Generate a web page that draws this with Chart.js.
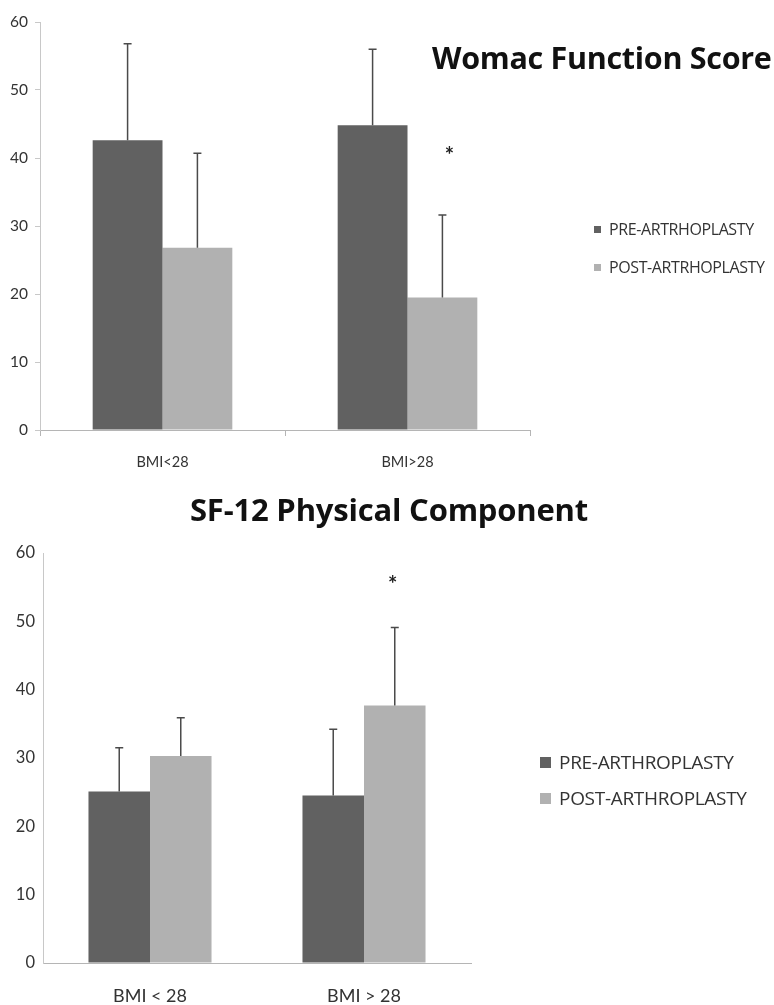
<!DOCTYPE html>
<html>
<head>
<meta charset="utf-8">
<script src="https://cdn.jsdelivr.net/npm/chart.js@4.4.0/dist/chart.umd.min.js"></script>
<style>
  html, body { margin: 0; padding: 0; background: #fff; }
  body { width: 774px; height: 1005px; position: relative; overflow: hidden; font-family: Lato, "Open Sans", sans-serif; }
  .box { position: absolute; left: 0; }
  .title { position: absolute; font-family: "Open Sans", sans-serif; font-weight: bold; color: #111; white-space: nowrap; line-height: 1; }
  .legend { position: absolute; font-family: "Open Sans", sans-serif; color: #333; white-space: nowrap; }
  .legend div { display: flex; align-items: center; }
  .legend span.sw { display: inline-block; }
</style>
</head>
<body>
<div class="box" style="top:0;width:774px;height:480px"><canvas id="womacChart"></canvas></div>
<div class="box" style="top:500px;width:774px;height:505px"><canvas id="sfChart"></canvas></div>

<div class="title" id="womacTitle" style="left:432px;top:42px;font-size:30.5px;letter-spacing:-0.3px">Womac Function Score</div>
<div class="title" id="sfTitle" style="left:190px;top:494px;font-size:31px;letter-spacing:-0.2px">SF-12 Physical Component</div>

<div class="legend" id="womacLegend" style="left:594px;top:210px;font-size:16px;letter-spacing:-0.4px"></div>
<div class="legend" id="sfLegend" style="left:540px;top:744px;font-size:19px;letter-spacing:-0.3px"></div>

<script>
// Womac function score, pre vs post arthroplasty, by BMI group
const womacGroups = ['BMI<28', 'BMI>28'];
const womacPre = [42.6, 44.8];
const womacPreSd = [14.2, 11.2];
const womacPost = [26.8, 19.5];
const womacPostSd = [13.9, 12.1];
const womacStars = [null, 41];
const womacLabels = ['PRE-ARTRHOPLASTY', 'POST-ARTRHOPLASTY'];

// SF-12 physical component
const sfGroups = ['BMI < 28', 'BMI > 28'];
const sfPre = [25.1, 24.5];
const sfPreSd = [6.4, 9.7];
const sfPost = [30.3, 37.7];
const sfPostSd = [5.6, 11.4];
const sfStars = [null, 56];
const sfLabels = ['PRE-ARTHROPLASTY', 'POST-ARTHROPLASTY'];

const yTicks = [0, 10, 20, 30, 40, 50, 60];

const DARK = '#616161';
const LIGHT = '#b1b1b1';

// Error bars: upward only, with a small cap
const errorBars = {
    id: 'errorBars',
    afterDatasetsDraw(chart) {
        const ctx = chart.ctx;
        const y = chart.scales.y;
        ctx.save();
        ctx.strokeStyle = '#4a4a4a';
        ctx.lineWidth = 1.5;
        chart.data.datasets.forEach((ds, i) => {
            const meta = chart.getDatasetMeta(i);
            meta.data.forEach((bar, j) => {
                const sd = ds.sd[j];
                const top = y.getPixelForValue(ds.data[j] + sd);
                ctx.beginPath();
                ctx.moveTo(bar.x, bar.y);
                ctx.lineTo(bar.x, top);
                ctx.moveTo(bar.x - 4, top);
                ctx.lineTo(bar.x + 4, top);
                ctx.stroke();
            });
        });
        ctx.restore();
    }
};

// Significance asterisks placed on the post dataset
const stars = {
    id: 'stars',
    afterDatasetsDraw(chart, args, opts) {
        const ctx = chart.ctx;
        const y = chart.scales.y;
        const meta = chart.getDatasetMeta(1);
        ctx.save();
        ctx.fillStyle = '#222';
        ctx.font = 'bold ' + opts.size + 'px Lato, sans-serif';
        ctx.textAlign = 'center';
        ctx.textBaseline = 'middle';
        opts.values.forEach((v, j) => {
            if (v == null) return;
            ctx.fillText('*', meta.data[j].x + opts.dx, y.getPixelForValue(v) + opts.size * 0.2);
        });
        ctx.restore();
    }
};

function makeChart(id, groups, pre, preSd, post, postSd, starVals, cfg) {
    return new Chart(document.getElementById(id), {
        type: 'bar',
        data: {
            labels: groups,
            datasets: [
                { label: 'pre', data: pre, sd: preSd, backgroundColor: DARK },
                { label: 'post', data: post, sd: postSd, backgroundColor: LIGHT }
            ]
        },
        options: {
            responsive: true,
            maintainAspectRatio: false,
            animation: false,
            datasets: { bar: { categoryPercentage: cfg.catPct, barPercentage: 1.0 } },
            layout: { padding: { left: 0, right: cfg.padRight, top: cfg.padTop, bottom: 0 } },
            plugins: {
                legend: { display: false },
                tooltip: { enabled: false },
                stars: { values: starVals, size: cfg.starSize, dx: cfg.starDx }
            },
            scales: {
                x: {
                    grid: { display: true, drawOnChartArea: false, drawTicks: cfg.xTicks, tickLength: 6, color: '#b5b5b5', offset: true },
                    border: { color: '#b5b5b5', width: 1 },
                    ticks: { color: '#333', font: { family: 'Lato', size: cfg.xFont }, padding: cfg.xPad },
                    afterFit(s) { s.height = cfg.xHeight; }
                },
                y: {
                    min: 0, max: 60,
                    afterBuildTicks(s) { s.ticks = yTicks.map(v => ({ value: v })); },
                    grid: { display: true, drawOnChartArea: false, drawTicks: cfg.yTicks, tickLength: 5, color: '#c8c8c8' },
                    border: { color: '#c8c8c8', width: 1 },
                    ticks: { color: '#333', font: { family: 'Lato', size: cfg.yFont }, padding: cfg.yPad },
                    afterFit(s) { s.width = cfg.yWidth; }
                }
            }
        },
        plugins: [errorBars, stars]
    });
}

makeChart('womacChart', womacGroups, womacPre, womacPreSd, womacPost, womacPostSd, womacStars, {
    catPct: 0.57, padRight: 244, padTop: 22, yWidth: 40, xHeight: 50,
    xFont: 14.5, yFont: 15.5, xPad: 18, yPad: 7, xTicks: true, yTicks: true, starSize: 22, starDx: 7
});

makeChart('sfChart', sfGroups, sfPre, sfPreSd, sfPost, sfPostSd, sfStars, {
    catPct: 0.575, padRight: 303, padTop: 53, yWidth: 43, xHeight: 42,
    xFont: 18, yFont: 16.5, xPad: 22, yPad: 8, xTicks: false, yTicks: false, starSize: 22, starDx: -2
});

// HTML legends
function buildLegend(elId, labels, sw, gap) {
    const el = document.getElementById(elId);
    labels.forEach((txt, i) => {
        const row = document.createElement('div');
        row.style.height = gap + 'px';
        const box = document.createElement('span');
        box.className = 'sw';
        box.style.width = sw + 'px';
        box.style.height = sw + 'px';
        box.style.background = i === 0 ? DARK : LIGHT;
        box.style.marginRight = '8px';
        row.appendChild(box);
        row.appendChild(document.createTextNode(txt));
        el.appendChild(row);
    });
}
buildLegend('womacLegend', womacLabels, 7, 38);
buildLegend('sfLegend', sfLabels, 11, 36);
</script>
</body>
</html>
